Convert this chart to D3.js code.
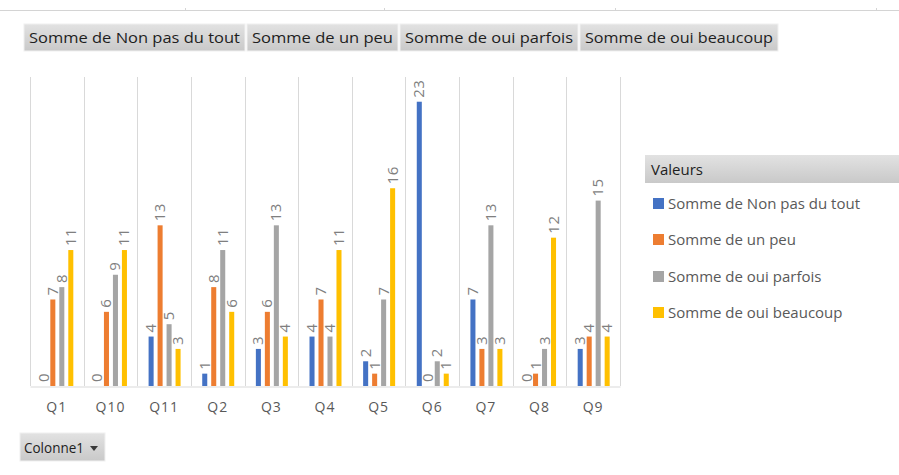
<!DOCTYPE html>
<meta charset="utf-8">
<head>
    <script type="text/javascript" src="https://d3js.org/d3.v7.min.js"></script>
    <style>
        body { margin: 0; background: #fff; }
        text { font-family: "Open Sans", sans-serif; }
    </style>
</head>
<body>
<script>
    // data
    var categories = ["Q1", "Q10", "Q11", "Q2", "Q3", "Q4", "Q5", "Q6", "Q7", "Q8", "Q9"];
    var seriesNames = ["Somme de Non pas du tout", "Somme de un peu", "Somme de oui parfois", "Somme de oui beaucoup"];
    var nonPasDuTout = [0, 0, 4, 1, 3, 4, 2, 23, 7, 0, 3];
    var unPeu =        [7, 6, 13, 8, 6, 7, 1, 0, 3, 1, 4];
    var ouiParfois =   [8, 9, 5, 11, 13, 4, 7, 2, 13, 3, 15];
    var ouiBeaucoup =  [11, 11, 3, 6, 4, 11, 16, 1, 3, 12, 4];
    var headerLabels = ["Somme  de Non pas du tout", "Somme  de un peu", "Somme  de oui parfois", "Somme  de oui beaucoup"];
    var colors = ["#4472C4", "#ED7D31", "#A5A5A5", "#FFC000"];

    var width = 899, height = 475;
    var plot = {left: 30, right: 620, top: 77, bottom: 386};

    var svg = d3.select("body").append("svg")
        .attr("width", width)
        .attr("height", height);

    var defs = svg.append("defs");
    var grad = defs.append("linearGradient").attr("id", "btn").attr("x1", 0).attr("y1", 0).attr("x2", 0).attr("y2", 1);
    grad.append("stop").attr("offset", "0%").attr("stop-color", "#e2e2e2");
    grad.append("stop").attr("offset", "100%").attr("stop-color", "#c9c9c9");

    // thin line at top with small ticks
    svg.append("line").attr("x1", 0).attr("x2", width).attr("y1", 10.5).attr("y2", 10.5)
        .style("stroke", "#d4d4d4");
    [185, 384, 615, 876].forEach(function(x) {
        svg.append("line").attr("x1", x + 0.5).attr("x2", x + 0.5).attr("y1", 8).attr("y2", 10)
            .style("stroke", "#d4d4d4");
    });

    // pivot field buttons
    var btnX = [24, 247, 400, 580];
    var btnW = [221, 151, 178, 198];
    var hdr = svg.append("g");
    headerLabels.forEach(function(t, i) {
        hdr.append("rect").attr("x", btnX[i]).attr("y", 24).attr("width", btnW[i]).attr("height", 27)
            .style("fill", "url(#btn)").style("stroke", "#f0f0f0");
        hdr.append("text").attr("x", btnX[i] + 5).attr("y", 43)
            .style("font-size", "15px").style("fill", "#1e1e1e")
            .attr("textLength", btnW[i] - 10).attr("lengthAdjust", "spacingAndGlyphs")
            .text(t);
    });

    // scales
    var x0 = d3.scaleBand().domain(categories).range([plot.left, plot.right]);
    var bw = x0.bandwidth();
    var x1 = d3.scaleBand().domain(seriesNames)
        .range([bw / 2 - 15.5, bw / 2 + 16.5]).paddingInner(0.44);
    var y = d3.scaleLinear().domain([0, 25]).range([plot.bottom, plot.top]);

    // vertical gridlines at category boundaries
    var bounds = categories.map(function(c) { return x0(c); }).concat([plot.right]);
    svg.append("g").selectAll("line").data(bounds).enter().append("line")
        .attr("x1", function(d) { return Math.round(d) + 0.5; })
        .attr("x2", function(d) { return Math.round(d) + 0.5; })
        .attr("y1", plot.top).attr("y2", plot.bottom)
        .style("stroke", "#d9d9d9");

    // x axis
    var xAxis = svg.append("g").attr("transform", "translate(0," + (plot.bottom + 0.5) + ")")
        .call(d3.axisBottom(x0).tickSize(0).tickPadding(16));
    xAxis.select(".domain").style("stroke", "#d9d9d9");
    xAxis.selectAll("text").style("font-size", "14px").style("fill", "#595959")
        .style("letter-spacing", "1px")
        .style("font-family", "'Open Sans', sans-serif");

    var series = [nonPasDuTout, unPeu, ouiParfois, ouiBeaucoup];
    var rows = [];
    categories.forEach(function(c, i) {
        series.forEach(function(s, j) {
            rows.push({cat: c, name: seriesNames[j], value: s[i], color: colors[j]});
        });
    });

    var bars = svg.append("g");
    bars.selectAll("rect").data(rows).enter().append("rect")
        .attr("x", function(d) { return x0(d.cat) + x1(d.name); })
        .attr("y", function(d) { return y(d.value); })
        .attr("width", x1.bandwidth())
        .attr("height", function(d) { return y(0) - y(d.value); })
        .style("fill", function(d) { return d.color; });

    // rotated data labels
    bars.selectAll("text").data(rows).enter().append("text")
        .attr("transform", function(d) {
            var cx = x0(d.cat) + x1(d.name) + x1.bandwidth() / 2;
            return "translate(" + (cx + 5) + "," + (y(d.value) - 4) + ") rotate(-90)";
        })
        .style("font-size", "15px").style("fill", "#7f7f7f")
        .style("letter-spacing", "0.5px")
        .text(function(d) { return d.value; });

    // legend
    var lg = svg.append("g");
    lg.append("rect").attr("x", 645).attr("y", 155).attr("width", 254).attr("height", 28)
        .style("fill", "url(#btn)");
    lg.append("text").attr("x", 651).attr("y", 175).style("font-size", "15px").style("fill", "#1e1e1e")
        .text("Valeurs");
    var rowY = [203, 239, 276, 312];
    seriesNames.forEach(function(n, i) {
        lg.append("rect").attr("x", 653).attr("y", rowY[i] - 5).attr("width", 11).attr("height", 11)
            .style("fill", colors[i]);
        lg.append("text").attr("x", 668).attr("y", rowY[i] + 5.5)
            .style("font-size", "15px").style("fill", "#595959")
            .text(n);
    });

    // Colonne1 field button
    svg.append("rect").attr("x", 20).attr("y", 433).attr("width", 85).attr("height", 28)
        .style("fill", "url(#btn)").style("stroke", "#f0f0f0");
    svg.append("text").attr("x", 24).attr("y", 453).style("font-size", "15px").style("fill", "#1e1e1e")
        .attr("textLength", 60).attr("lengthAdjust", "spacingAndGlyphs")
        .text("Colonne1");
    svg.append("path").attr("d", "M90,446 L98,446 L94,451 Z").style("fill", "#3a3a3a");
</script>
</body>
</html>
